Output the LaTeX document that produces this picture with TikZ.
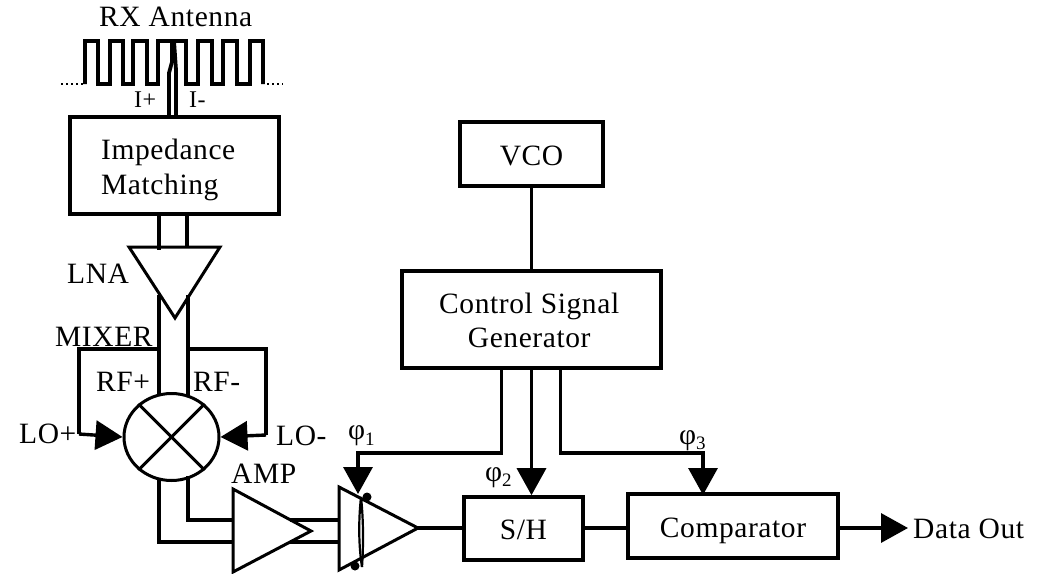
\documentclass[tikz,border=0pt]{standalone}
\usepackage{fontspec}
\setmainfont{Liberation Serif}[LetterSpace=2]
\usetikzlibrary{arrows.meta,shapes.geometric}
\newcommand{\phisub}[1]{φ\raisebox{-.2em}{\fontsize{19}{19}\selectfont #1}}
\tikzset{
  wire/.style={line width=3.4pt,line join=miter,line cap=butt,black},
  tri/.style={line width=3pt,line join=miter,black},
  fil/.style={wire,-{Triangle[length=#1,width=29pt,sep=0pt]}},
  fil/.default=27pt,
  boxn/.style={draw=black,line width=3.6pt,inner sep=0pt,font=\fontsize{29.5}{34}\selectfont,text height=22pt,text depth=0pt},
  lab/.style={inner sep=0pt,anchor=base west,font=\fontsize{29.5}{34}\selectfont},
  smalllab/.style={inner sep=0pt,anchor=base west,font=\fontsize{24}{26}\selectfont},
}
\begin{document}
\begin{tikzpicture}[x=1pt,y=-1pt]
\useasboundingbox (0,0) rectangle (1048,573);
% boxes
\node[boxn,minimum width=209pt,minimum height=97pt] (imp) at (174.5,165.5) {};
\node[boxn,minimum width=143pt,minimum height=64pt] (vco) at (531.5,154) {VCO};
\node[boxn,minimum width=259pt,minimum height=97pt] (ctrl) at (531.5,319.5) {};
\node[boxn,minimum width=119pt,minimum height=63pt] (sh) at (523.5,528.5) {S/H};
\node[boxn,minimum width=210pt,minimum height=64pt] (comp) at (733,526) {Comparator};
% labels
\node[lab] (rxt) at (99,26) {RX Antenna};
\node[smalllab] (ip) at (134,107) {I+};
\node[smalllab] (im) at (189,107) {I-};
\node[lab,align=left,font=\fontsize{29.5}{35}\selectfont] (impt) at (101,194) {Impedance\\Matching};
\node[lab,align=center] (ctrlt) at (439,347) {Control Signal\\Generator};
\node[lab] (lnat) at (67,283) {LNA};
\node[lab] (mixt) at (55,346) {MIXER};
\node[lab] (rfp) at (96,391) {RF+};
\node[lab] (rfm) at (193,391) {RF-};
\node[lab] (lop) at (19,443) {LO+};
\node[lab] (lom) at (276,445) {LO-};
\node[lab] (ampt) at (231,483) {AMP};
\node[lab] (ph1) at (348,439.5) {\phisub{1}};
\node[lab] (ph2) at (485,481) {\phisub{2}};
\node[lab] (ph3) at (679,444) {\phisub{3}};
\node[lab] (dout) at (913,538) {Data Out};
% antenna
\coordinate (ipin) at (169,117);
\coordinate (imin) at (176,117);
\draw[wire,line width=3.8pt] (85,84) |- (98,41) |- (110,84) |- (123,41) |- (133,84) |- (147,41) |- (158,84) |- (172,41) -- (172,62) -- (169,73) -- (ipin);
\draw[wire,line width=3.8pt] (263,84) |- (250,41) |- (237,84) |- (223,41) |- (212,84) |- (198,41) |- (186,84) |- (174,41) -- (176,70) -- (imin);
\draw[line width=2.6pt,dash pattern=on 2pt off 3pt] (61,84) -- (83,84);
\draw[line width=2.6pt,dash pattern=on 2pt off 3pt] (267,84) -- (283,84);
% LNA
\coordinate (la) at (129,247);
\coordinate (lb) at (220,247);
\coordinate (lc) at (175,318);
\draw[tri] (la) -- (lb) -- (lc) -- cycle;
\coordinate (la1) at (159,250);
\coordinate (la2) at (187,247);
\draw[wire] (imp.south -| la1) -- (la1);
\draw[wire] (imp.south -| la2) -- (la2);
% mixer
\node[draw=black,line width=3pt,ellipse,inner sep=0pt,minimum width=95pt,minimum height=87pt] (mix) at (171.5,437) {};
\draw[tri] (mix.45) -- (mix.225);
\draw[tri] (mix.135) -- (mix.315);
\coordinate (m1) at (159,295);
\coordinate (m2) at (188,295);
\coordinate (mt1) at (159,394);
\coordinate (mt2) at (188,396);
\draw[wire] (m1) -- (mt1);
\draw[wire] (m2) -- (mt2);
\coordinate (loL) at (79,349);
\coordinate (loR) at (266,349);
\draw[wire] (159,349) -- (loL) -- (79,434) coordinate (loL2);
\draw[wire] (188,349) -- (loR) -- (266,435) coordinate (loR2);
\draw[fil] (loL2) -- (mix.west);
\draw[fil] (loR2) -- (mix.east);
% AMP
\coordinate (aa) at (233,489);
\coordinate (ab) at (311,531);
\coordinate (ac) at (233,572);
\draw[tri] (aa) -- (ab) -- (ac) -- cycle;
\coordinate (a1) at (233,520);
\coordinate (a2) at (233,542);
\draw[wire] (188,476) |- (a1);
\draw[wire] (159,478) |- (a2);
% second stage
\coordinate (ba) at (339,487);
\coordinate (bb) at (418,528);
\coordinate (bc) at (339,570);
\draw[tri] (ba) -- (bb) -- (bc) -- cycle;
\draw[wire] (290,520) -- (339,520);
\draw[wire] (290,542) -- (339,542);
\draw[line width=2.2pt] (361,497) .. controls (358.5,520) and (358.5,545) .. (362,567);
\draw[line width=2.2pt] (361,497) .. controls (363.5,520) and (363.5,545) .. (362,567);
\fill (367,497) circle (4.5pt);
\fill (355,566) circle (4.5pt);
% signals
\draw[wire] (bb) -- (sh.west |- bb);
\draw[wire] (sh.east |- bb) -- (comp.west |- bb);
\draw[fil] (comp.east |- bb) -- (908,528);
\draw[wire] (vco) -- (ctrl);
\coordinate (c1) at (501.5,368);
\coordinate (c3) at (560.5,368);
\coordinate (p1) at (358,494);
\coordinate (p3) at (703,495);
\draw[fil] (c1) |- (358,453) -- (p1);
\draw[fil] (ctrl.south) -- (sh.north -| ctrl.south);
\draw[fil] (c3) |- (703,453) -- (p3);
\end{tikzpicture}
\end{document}
